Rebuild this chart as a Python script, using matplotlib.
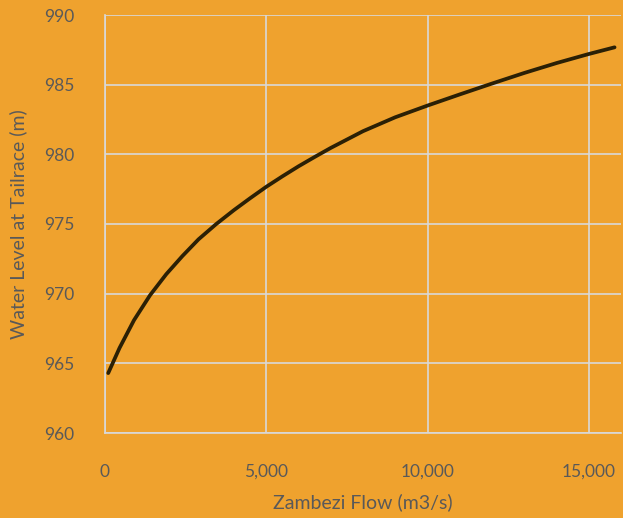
import matplotlib
matplotlib.use("Agg")
import matplotlib.pyplot as plt
from matplotlib.ticker import FuncFormatter

# rating curve
flow = [100, 450, 900, 1400, 1900, 2400, 2900, 3450, 4000, 4500, 5000,
        5500, 6000, 6500, 7000, 8000, 9000, 10000, 11000, 12000, 13000,
        14000, 15000, 15800]
level = [964.3, 966.1, 968.1, 969.9, 971.4, 972.7, 973.9, 975.0, 976.0,
         976.85, 977.67, 978.42, 979.14, 979.81, 980.46, 981.66, 982.66,
         983.5, 984.3, 985.08, 985.84, 986.55, 987.2, 987.68]

bg = '#EFA22E'
txt = '#595959'
grid = '#D9D9D9'

plt.rcParams['font.family'] = ['Lato', 'DejaVu Sans']

fig = plt.figure(figsize=(6.23, 5.18), dpi=100, facecolor=bg)
ax = fig.add_axes([105 / 623, 1 - 433 / 518, 516 / 623, 418 / 518])
ax.set_facecolor(bg)

ax.plot(flow, level, color='#2B2005', linewidth=2.7,
        solid_capstyle='round', solid_joinstyle='round')

ax.set_xlim(0, 16000)
ax.set_ylim(960, 990)
ax.set_xticks([0, 5000, 10000, 15000])
ax.set_yticks(range(960, 991, 5))
ax.xaxis.set_major_formatter(FuncFormatter(lambda v, p: '{:,.0f}'.format(v)))

ax.grid(True, color=grid, linewidth=1.2)
ax.set_axisbelow(True)
for s in ['top', 'right']:
    ax.spines[s].set_visible(False)
for s in ['left', 'bottom']:
    ax.spines[s].set_color(grid)
    ax.spines[s].set_linewidth(1.2)

ax.tick_params(length=0, colors=txt, labelsize=12.5)
ax.tick_params(axis='y', pad=22)
ax.tick_params(axis='x', pad=22)

ax.set_xlabel('Zambezi Flow (m3/s)', color=txt, fontsize=14, labelpad=10)
ax.set_ylabel('Water Level at Tailrace (m)', color=txt, fontsize=14, labelpad=12)

fig.savefig('out.png', dpi=100, facecolor=bg)
